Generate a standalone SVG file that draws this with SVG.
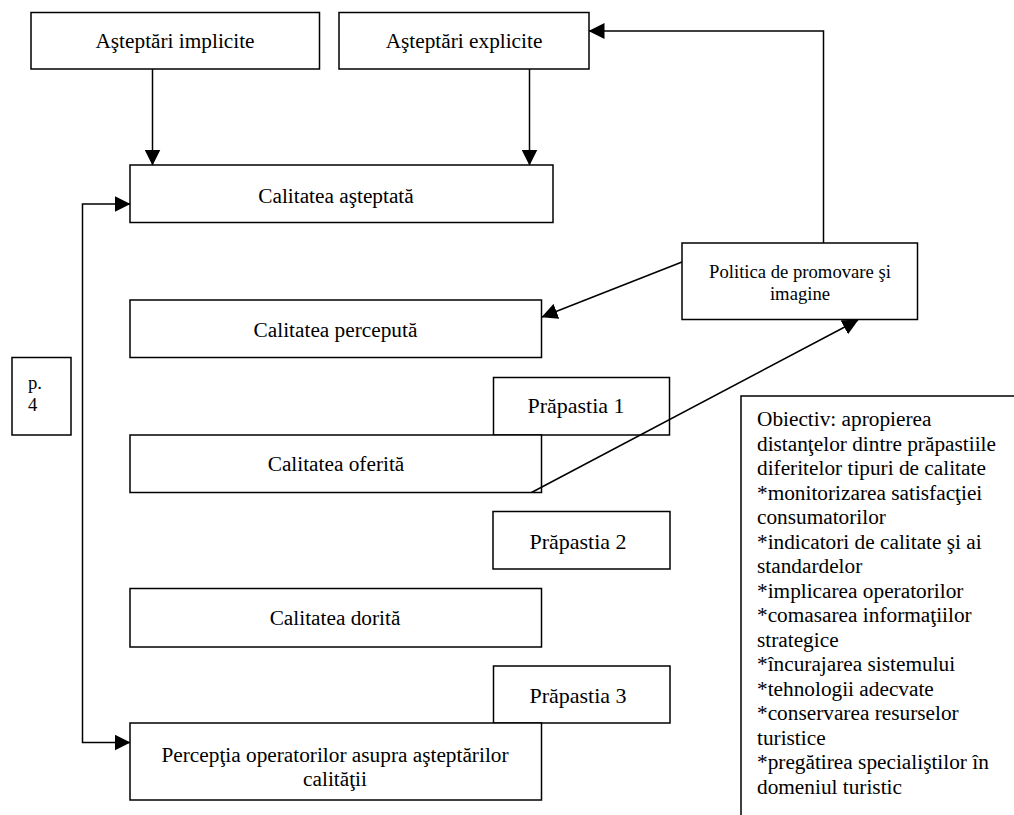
<svg xmlns="http://www.w3.org/2000/svg" width="1014" height="815" viewBox="0 0 1014 815">
<style>
.box{fill:#fff;stroke:#000;stroke-width:1.5}
.t{font-family:"Liberation Serif","Times New Roman",serif;font-size:21.3px;fill:#000}
.c{text-anchor:middle}
.s{font-size:18.67px}
.p{font-size:22px}
.conn{fill:none;stroke:#000;stroke-width:1.5}
</style>
<defs>
<marker id="arr" markerUnits="userSpaceOnUse" markerWidth="16" markerHeight="16" refX="15.5" refY="8" orient="auto-start-reverse" viewBox="0 0 16 16">
<path d="M0,0 L16,8 L0,16 z" fill="#000"/>
</marker>
</defs>
<g id="nodes">
<g id="implicite"><rect class="box" x="31" y="12.5" width="288.5" height="56.5"/><text class="t c" x="175" y="48">Aşteptări implicite</text></g>
<g id="explicite"><rect class="box" x="339" y="12.5" width="250" height="56.5"/><text class="t c" x="464" y="48">Aşteptări explicite</text></g>
<g id="asteptata"><rect class="box" x="130" y="165" width="423" height="57.5"/><text class="t c" x="336" y="202.5">Calitatea aşteptată</text></g>
<g id="perceputa"><rect class="box" x="130" y="300" width="411.5" height="57.5"/><text class="t c" x="335.5" y="337">Calitatea percepută</text></g>
<g id="prapastia1"><rect class="box" x="493.5" y="377.5" width="176" height="57.5"/><text class="t c p" x="576" y="413">Prăpastia 1</text></g>
<g id="oferita"><rect class="box" x="130" y="435" width="411.5" height="57.5"/><text class="t c" x="336" y="471">Calitatea oferită</text></g>
<g id="prapastia2"><rect class="box" x="493" y="511.5" width="177" height="57.5"/><text class="t c p" x="578" y="548.5">Prăpastia 2</text></g>
<g id="dorita"><rect class="box" x="130" y="588.5" width="411.5" height="58.5"/><text class="t c" x="335" y="625">Calitatea dorită</text></g>
<g id="prapastia3"><rect class="box" x="493.5" y="666" width="176.5" height="57"/><text class="t c p" x="578" y="703">Prăpastia 3</text></g>
<g id="perceptia"><rect class="box" x="130" y="723" width="411.5" height="77"/><text class="t c" x="335" y="761.5">Percepţia operatorilor asupra aşteptărilor</text><text class="t c" x="335" y="786">calităţii</text></g>
<g id="p4"><rect class="box" x="12" y="357.5" width="59" height="77.5"/><text class="t s" x="28" y="389">p.</text><text class="t s" x="28" y="411">4</text></g>
<g id="politica"><rect class="box" x="682" y="243" width="235.5" height="76.5"/><text class="t c s" x="800" y="278">Politica de promovare şi</text><text class="t c s" x="800" y="300">imagine</text></g>
<g id="obiectiv"><path class="conn" d="M1014,396 H741 V815"/>
<text class="t" x="757">
<tspan x="757" y="426">Obiectiv: apropierea</tspan>
<tspan x="757" y="450.5">distanţelor dintre prăpastiile</tspan>
<tspan x="757" y="475">diferitelor tipuri de calitate</tspan>
<tspan x="757" y="499.5">*monitorizarea satisfacţiei</tspan>
<tspan x="757" y="524">consumatorilor</tspan>
<tspan x="757" y="548.5">*indicatori de calitate şi ai</tspan>
<tspan x="757" y="573">standardelor</tspan>
<tspan x="757" y="597.5">*implicarea operatorilor</tspan>
<tspan x="757" y="622">*comasarea informaţiilor</tspan>
<tspan x="757" y="646.5">strategice</tspan>
<tspan x="757" y="671">*încurajarea sistemului</tspan>
<tspan x="757" y="695.5">*tehnologii adecvate</tspan>
<tspan x="757" y="720">*conservarea resurselor</tspan>
<tspan x="757" y="744.5">turistice</tspan>
<tspan x="757" y="769">*pregătirea specialiştilor în</tspan>
<tspan x="757" y="793.5">domeniul turistic</tspan>
</text></g>
</g>
<g id="connectors">
<path class="conn" d="M152.5,69 V165" marker-end="url(#arr)"/>
<path class="conn" d="M529.5,69 V165" marker-end="url(#arr)"/>
<path class="conn" d="M823.5,243 V31 H589" marker-end="url(#arr)"/>
<path class="conn" d="M682,262 L542,317" marker-end="url(#arr)"/>
<path class="conn" d="M531.5,492.5 L858,320" marker-end="url(#arr)"/>
<path class="conn" d="M130,204 H82.5 V742.5 H130" marker-start="url(#arr)" marker-end="url(#arr)"/>
</g>
</svg>
